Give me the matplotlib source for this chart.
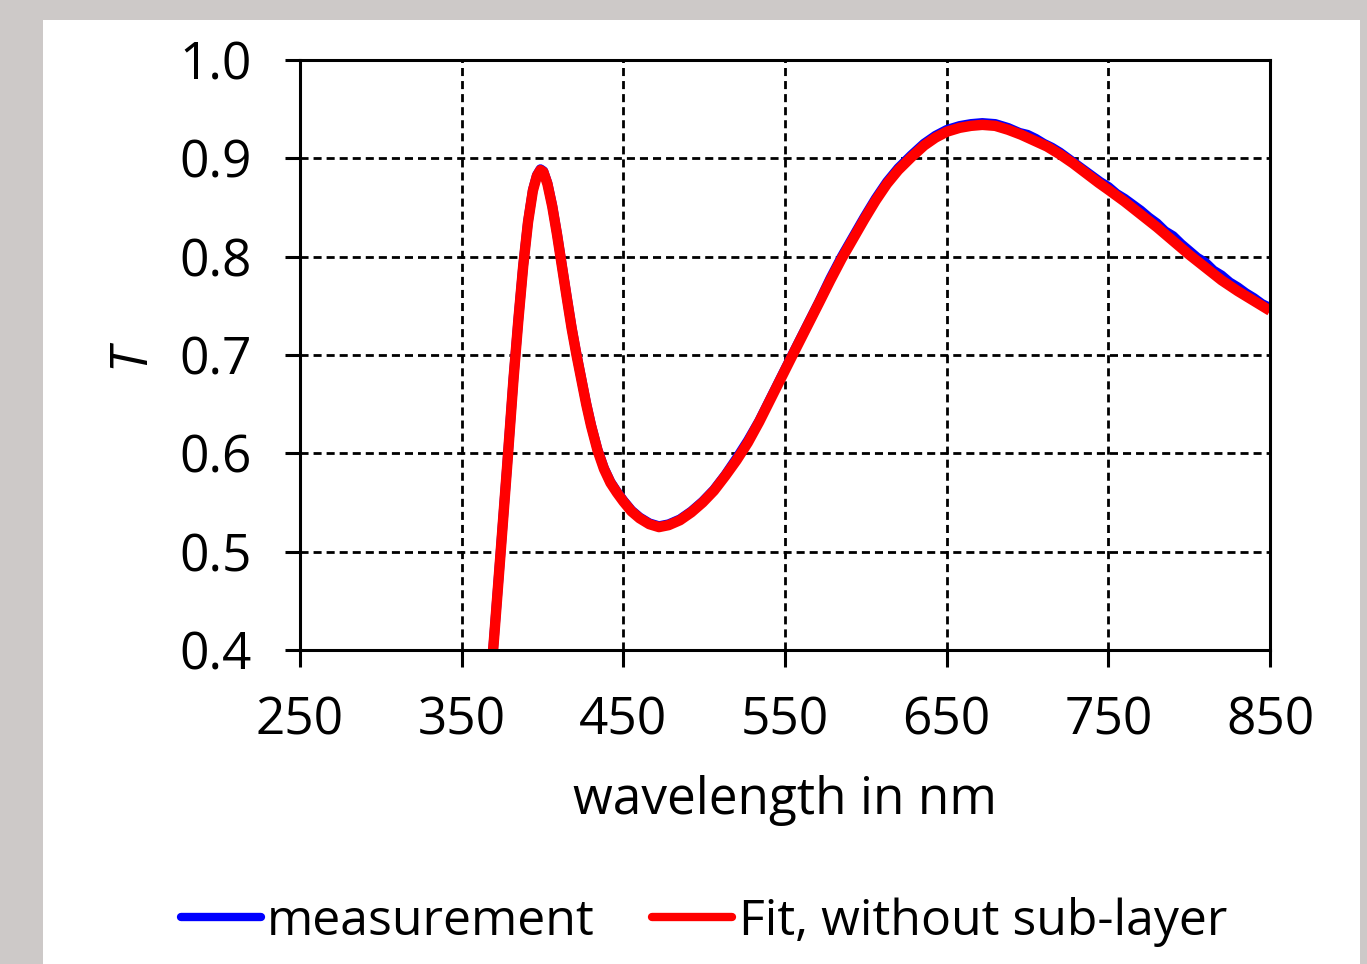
import matplotlib
matplotlib.use("Agg")
import matplotlib.pyplot as plt
from matplotlib.patches import Rectangle

# transmittance spectrum: fitted model (no sub-layer)
fit_wl = [366, 370, 374, 378, 382, 385, 388, 391, 394, 396.5, 398.7, 400.5,
          403, 406, 409, 412, 415, 418, 421, 424, 427, 430, 434, 438, 442,
          446, 450, 455, 460, 466, 472, 478, 485, 492, 499, 506, 513, 520,
          527, 534, 541, 548, 555, 563, 571, 578, 585, 592, 599, 606, 613,
          620, 628, 636, 643, 650, 658, 665, 672, 680, 688, 696, 704, 712,
          720, 728, 736, 744, 750, 760, 770, 780, 790, 800, 810, 820, 830,
          840, 850]
fit_T = [0.330, 0.412, 0.498, 0.585, 0.675, 0.735, 0.790, 0.835, 0.867,
         0.882, 0.888, 0.886, 0.874, 0.851, 0.822, 0.790, 0.758, 0.727,
         0.700, 0.675, 0.650, 0.628, 0.603, 0.584, 0.570, 0.560, 0.551,
         0.541, 0.534, 0.528, 0.525, 0.527, 0.532, 0.540, 0.550, 0.562,
         0.577, 0.593, 0.611, 0.632, 0.655, 0.678, 0.701, 0.727, 0.753,
         0.776, 0.798, 0.818, 0.838, 0.857, 0.874, 0.888, 0.901, 0.913,
         0.921, 0.927, 0.931, 0.933, 0.934, 0.933, 0.929, 0.924, 0.918,
         0.912, 0.904, 0.895, 0.885, 0.875, 0.868, 0.856, 0.843, 0.830,
         0.816, 0.802, 0.789, 0.776, 0.765, 0.755, 0.745]

# measured spectrum
meas_wl = [366, 370, 374, 378, 382, 385, 388, 391, 394, 396.5, 398.7, 400.5,
           403, 406, 409, 412, 415, 418, 421, 424, 427, 430, 434, 438, 442,
           446, 450, 455, 460, 466, 472, 478, 485, 492, 499, 506, 513, 520,
           527, 534, 541, 548, 555, 563, 571, 578, 585, 592, 599, 606, 613,
           620, 628, 636, 643, 650, 658, 665, 672, 680, 688, 695, 700, 705,
           710, 715, 720, 725, 730, 735, 740, 745, 750, 755, 760, 765, 770,
           775, 780, 785, 790, 795, 800, 805, 810, 815, 820, 825, 830, 835,
           840, 845, 850]
meas_T = [0.330, 0.413, 0.499, 0.586, 0.676, 0.736, 0.791, 0.836, 0.868,
          0.883, 0.889, 0.887, 0.875, 0.852, 0.823, 0.791, 0.759, 0.728,
          0.701, 0.676, 0.651, 0.629, 0.604, 0.585, 0.571, 0.561, 0.552,
          0.542, 0.535, 0.529, 0.526, 0.528, 0.533, 0.541, 0.551, 0.563,
          0.578, 0.595, 0.613, 0.633, 0.656, 0.679, 0.702, 0.728, 0.754,
          0.778, 0.800, 0.820, 0.840, 0.859, 0.876, 0.890, 0.903, 0.915,
          0.923, 0.929, 0.933, 0.935, 0.936, 0.935, 0.931, 0.926, 0.924,
          0.920, 0.915, 0.911, 0.906, 0.900, 0.894, 0.888, 0.882, 0.876,
          0.871, 0.864, 0.859, 0.853, 0.847, 0.840, 0.834, 0.826, 0.821,
          0.813, 0.806, 0.799, 0.794, 0.786, 0.781, 0.774, 0.769, 0.763,
          0.758, 0.752, 0.748]

x_ticks = [250, 350, 450, 550, 650, 750, 850]
y_ticks = [0.4, 0.5, 0.6, 0.7, 0.8, 0.9, 1.0]

plt.rcParams['font.family'] = ['Open Sans', 'DejaVu Sans']
plt.rcParams['lines.scale_dashes'] = False

fig = plt.figure(figsize=(13.67, 9.64), dpi=100, facecolor='#cdc9c8')
fig.patches.append(Rectangle((0.0315, 0.0), 0.9634, 0.9793, transform=fig.transFigure,
                             facecolor='white', edgecolor='none', zorder=0))

ax = fig.add_axes([0.2195, 0.3257, 0.7096, 0.6121])
ax.set_zorder(2)
ax.set_facecolor('white')

ax.plot(meas_wl, meas_T, color='#0000ff', lw=7, solid_capstyle='butt',
        label='measurement', zorder=3)
ax.plot(fit_wl, fit_T, color='#ff0000', lw=7.5, solid_capstyle='butt',
        label='Fit, without sub-layer', zorder=4)

ax.set_xlim(250, 850)
ax.set_ylim(0.4, 1.0)
ax.set_xticks(x_ticks)
ax.set_yticks(y_ticks)
ax.set_yticklabels([f"{v:.1f}" for v in y_ticks])

ax.grid(True, color='black', lw=2.0, linestyle=(0, (5.8, 3.6)), zorder=1)
ax.set_axisbelow(True)

for s in ax.spines.values():
    s.set_linewidth(2.2)
    s.set_zorder(5)

ax.tick_params(axis='y', direction='out', length=11, width=2.2, pad=24, labelsize=37)
ax.tick_params(axis='x', direction='out', length=12, width=2.2, pad=21, labelsize=37)

ax.set_xlabel('wavelength in nm', fontsize=37, labelpad=20)
ax.set_ylabel('T', fontsize=37, style='italic', labelpad=17)

handles, labels = ax.get_legend_handles_labels()
leg = fig.legend(handles, labels, loc='center', bbox_to_anchor=(0.515, 0.044), ncol=2,
                 frameon=False, fontsize=36, handlelength=1.6, handletextpad=0.13,
                 columnspacing=1.15)
for line in leg.get_lines():
    line.set_linewidth(6)
    line.set_solid_capstyle('round')

fig.savefig('out.png', dpi=100, facecolor=fig.get_facecolor())
